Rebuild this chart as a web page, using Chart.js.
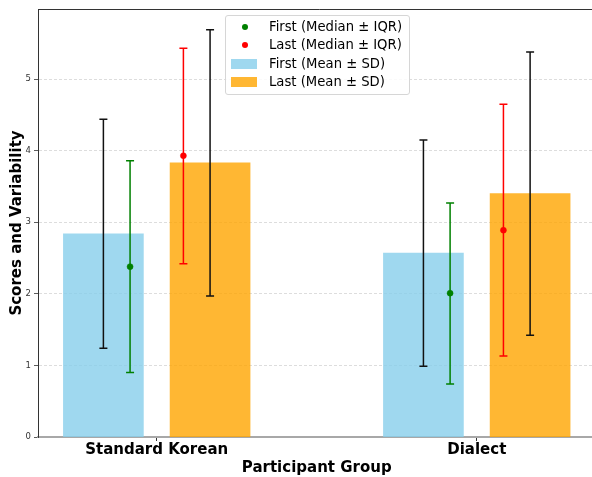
<!DOCTYPE html>
<html>
<head>
<meta charset="utf-8">
<script src="https://cdn.jsdelivr.net/npm/chart.js@4.4.0/dist/chart.umd.min.js"></script>
<style>
  html, body { margin: 0; padding: 0; background: #fff; overflow: hidden; }
  #wrap { position: relative; width: 592px; height: 477px; overflow: hidden; }
  #legend {
    position: absolute; left: 225px; top: 15px; width: 185px; height: 80px;
    box-sizing: border-box; padding-top: 2px;
    border: 1px solid #d6d6d6; border-radius: 3px; background: rgba(255,255,255,0.85);
    font-family: "DejaVu Sans"; font-size: 13.2px; color: #000;
  }
  .row { position: relative; height: 18.3px; line-height: 18.3px; padding-left: 43px; white-space: nowrap; }
  .dot { position: absolute; left: 16px; top: 6px; width: 6px; height: 6px; border-radius: 50%; }
  .patch { position: absolute; left: 5px; top: 4px; width: 26px; height: 10px; }
</style>
</head>
<body>
<div id="wrap">
  <canvas id="grafico" width="600" height="477"></canvas>
  <div id="legend"></div>
</div>
<script>
// datos
const grupos = ['Standard Korean', 'Dialect'];
const firstMean = [2.84, 2.57];
const firstSD = [1.60, 1.58];
const lastMean = [3.83, 3.40];
const lastSD = [1.86, 1.98];
const firstMedian = [2.38, 2.01];
const firstQ1 = [0.90, 0.74];
const firstQ3 = [3.86, 3.27];
const lastMedian = [3.93, 2.89];
const lastQ1 = [2.42, 1.13];
const lastQ3 = [5.43, 4.65];
const yTicks = [0, 1, 2, 3, 4, 5];

const offBar = 1 / 6, offMed = 1 / 12;
const puntos = (vals, off) => vals.map((v, i) => ({ x: i + off, y: v }));

function pintarError(chart, idx) {
  const ds = chart.data.datasets[idx];
  const { ctx, scales: { x, y } } = chart;
  ctx.save();
  ctx.strokeStyle = ds.errColor;
  ctx.lineWidth = 1.5;
  ds.data.forEach((p, i) => {
    const px = x.getPixelForValue(p.x);
    const lo = y.getPixelForValue(ds.errLow[i]);
    const hi = y.getPixelForValue(ds.errHigh[i]);
    ctx.beginPath();
    ctx.moveTo(px, lo); ctx.lineTo(px, hi);
    ctx.moveTo(px - 4, lo); ctx.lineTo(px + 4, lo);
    ctx.moveTo(px - 4, hi); ctx.lineTo(px + 4, hi);
    ctx.stroke();
  });
  ctx.restore();
}

const errorBars = {
  id: 'errorBars',
  beforeDatasetDraw(chart, args) {
    if (chart.data.datasets[args.index].type === 'scatter') pintarError(chart, args.index);
  },
  afterDatasetDraw(chart, args) {
    if (chart.data.datasets[args.index].type === 'bar') pintarError(chart, args.index);
  },
  afterDraw(chart) {
    // borde superior
    const { ctx, chartArea: a } = chart;
    ctx.save();
    ctx.strokeStyle = '#333';
    ctx.lineWidth = 1;
    ctx.beginPath();
    ctx.moveTo(a.left, Math.round(a.top) + 0.5);
    ctx.lineTo(a.right + 5, Math.round(a.top) + 0.5);
    ctx.stroke();
    ctx.restore();
  }
};

Chart.defaults.font.family = 'DejaVu Sans';

const chart = new Chart(document.getElementById('grafico').getContext('2d'), {
  type: 'bar',
  data: {
    datasets: [
      {
        type: 'scatter', label: 'First (Median \u00b1 IQR)', order: 1,
        data: puntos(firstMedian, -offMed), errLow: firstQ1, errHigh: firstQ3, errColor: 'green',
        backgroundColor: 'green', borderColor: 'green', pointRadius: 3, borderWidth: 0.5, legendKind: 'dot'
      },
      {
        type: 'scatter', label: 'Last (Median \u00b1 IQR)', order: 1,
        data: puntos(lastMedian, offMed), errLow: lastQ1, errHigh: lastQ3, errColor: 'red',
        backgroundColor: 'red', borderColor: 'red', pointRadius: 3, borderWidth: 0.5, legendKind: 'dot'
      },
      {
        type: 'bar', label: 'First (Mean \u00b1 SD)', order: 2,
        data: puntos(firstMean, -offBar),
        errLow: firstMean.map((m, i) => m - firstSD[i]), errHigh: firstMean.map((m, i) => m + firstSD[i]),
        errColor: '#111', backgroundColor: 'rgba(135,206,235,0.8)', legendKind: 'patch'
      },
      {
        type: 'bar', label: 'Last (Mean \u00b1 SD)', order: 2,
        data: puntos(lastMean, offBar),
        errLow: lastMean.map((m, i) => m - lastSD[i]), errHigh: lastMean.map((m, i) => m + lastSD[i]),
        errColor: '#111', backgroundColor: 'rgba(255,165,0,0.8)', legendKind: 'patch'
      }
    ]
  },
  options: {
    responsive: false,
    animation: false,
    devicePixelRatio: 1,
    layout: { padding: { top: 9, right: 2.6, left: 0, bottom: 0 } },
    datasets: { bar: { grouped: false, barThickness: 80 } },
    plugins: { legend: { display: false }, tooltip: { enabled: false } },
    scales: {
      x: {
        type: 'linear', min: -0.371, max: 1.371, offset: false,
        afterBuildTicks: s => { s.ticks = grupos.map((g, i) => ({ value: i })); },
        afterFit: s => { s.height = 40; },
        ticks: {
          callback: v => grupos[v], color: '#000', padding: 0, maxRotation: 0,
          font: { size: 15, weight: 'bold' }
        },
        grid: { offset: false, drawOnChartArea: false, tickLength: 4, tickColor: '#333' },
        border: { color: '#a8a8a8', width: 2 },
        title: {
          display: true, text: 'Participant Group', color: '#000',
          font: { size: 15, weight: 'bold' }, padding: { top: 0, bottom: 0 }
        }
      },
      y: {
        min: 0, max: 5.98,
        afterBuildTicks: s => { s.ticks = yTicks.map(v => ({ value: v })); },
        afterFit: s => { s.width = 38; },
        ticks: { color: '#333', padding: 3, font: { size: 8.5 } },
        grid: { color: '#d4d4d4', lineWidth: 0.8, tickLength: 4, tickColor: '#333' },
        border: { color: '#333', width: 1, dash: [3, 2] },
        title: {
          display: true, text: 'Scores and Variability', color: '#000',
          font: { size: 15, weight: 'bold' }, padding: { top: 8, bottom: 0 }
        }
      }
    }
  },
  plugins: [errorBars]
});

// leyenda en html
const leyenda = document.getElementById('legend');
chart.data.datasets.forEach(ds => {
  const row = document.createElement('div');
  row.className = 'row';
  const mk = document.createElement('span');
  mk.className = ds.legendKind;
  mk.style.background = ds.backgroundColor;
  row.appendChild(mk);
  row.appendChild(document.createTextNode(ds.label));
  leyenda.appendChild(row);
});
</script>
</body>
</html>
